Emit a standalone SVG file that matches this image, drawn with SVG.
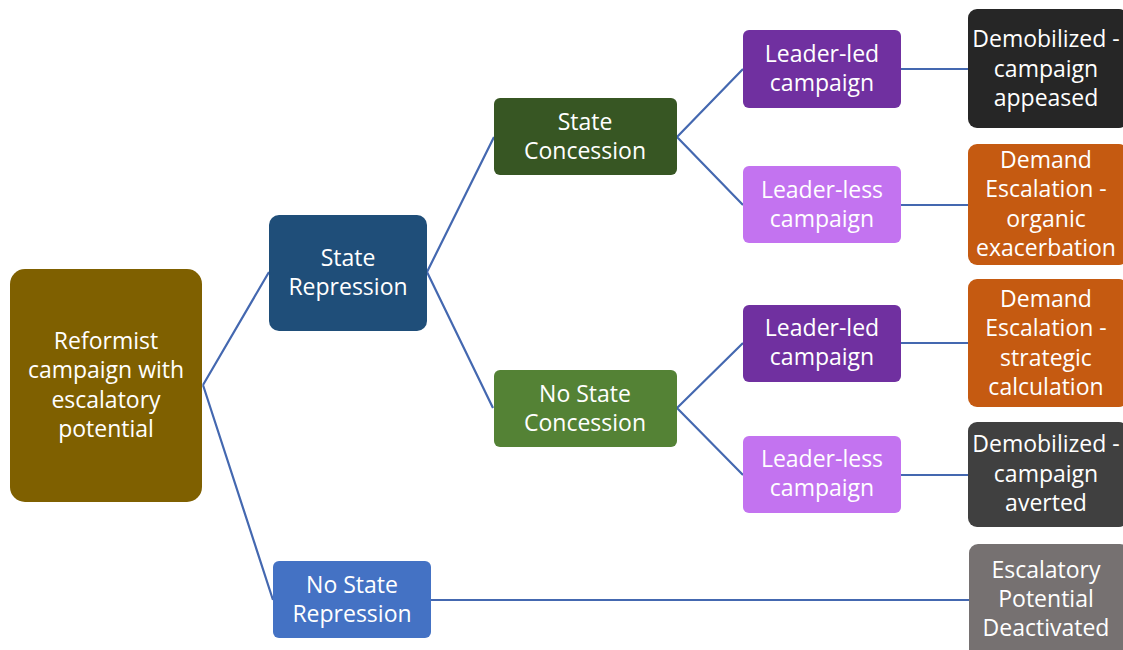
<svg xmlns="http://www.w3.org/2000/svg" width="1123" height="650" viewBox="0 0 1123 650">
<style>
.t{font-family:"Open Sans","Noto Sans",sans-serif;font-size:23px;fill:#fff;text-anchor:middle}
.c{stroke:#4468b0;stroke-width:2.2;fill:none}
</style>
<rect width="1123" height="650" fill="#fff"/>
<g id="connectors">
<path class="c" d="M203,385 L269,272 M203,385 L273,600"/>
<path class="c" d="M427,272 L494,137 M427,272 L493,408"/>
<path class="c" d="M677,137 L743,69 M677,137 L743,205"/>
<path class="c" d="M677,408 L743,343 M677,408 L743,475"/>
<path class="c" d="M901,69 H968 M901,205 H968 M901,343 H968 M901,475 H968 M431,600 H969"/>
</g>
<g id="root"><rect x="10" y="269" width="192" height="233" rx="15" fill="#7f6000"/>
<text class="t" x="106" y="349">Reformist</text><text class="t" x="106" y="378">campaign with</text><text class="t" x="106" y="408">escalatory</text><text class="t" x="106" y="437">potential</text></g>
<g id="state-repression"><rect x="269" y="215" width="158" height="116" rx="10" fill="#1f4e79"/>
<text class="t" x="348" y="266">State</text><text class="t" x="348" y="295">Repression</text></g>
<g id="no-state-repression"><rect x="273" y="561" width="158" height="77" rx="6" fill="#4472c4"/>
<text class="t" x="352" y="593">No State</text><text class="t" x="352" y="622">Repression</text></g>
<g id="state-concession"><rect x="494" y="98" width="183" height="77" rx="6" fill="#375623"/>
<text class="t" x="585" y="130">State</text><text class="t" x="585" y="159">Concession</text></g>
<g id="no-state-concession"><rect x="494" y="370" width="183" height="77" rx="6" fill="#548235"/>
<text class="t" x="585" y="402">No State</text><text class="t" x="585" y="431">Concession</text></g>
<g id="leader-led-1"><rect x="743" y="30" width="158" height="78" rx="6" fill="#7030a0"/>
<text class="t" x="822" y="62">Leader-led</text><text class="t" x="822" y="91">campaign</text></g>
<g id="leader-less-1"><rect x="743" y="166" width="158" height="77" rx="6" fill="#c373f0"/>
<text class="t" x="822" y="198">Leader-less</text><text class="t" x="822" y="227">campaign</text></g>
<g id="leader-led-2"><rect x="743" y="305" width="158" height="77" rx="6" fill="#7030a0"/>
<text class="t" x="822" y="336">Leader-led</text><text class="t" x="822" y="365">campaign</text></g>
<g id="leader-less-2"><rect x="743" y="436" width="158" height="77" rx="6" fill="#c373f0"/>
<text class="t" x="822" y="467">Leader-less</text><text class="t" x="822" y="496">campaign</text></g>
<g id="demobilized-appeased"><rect x="968" y="9" width="160" height="119" rx="9" fill="#262626"/>
<text class="t" x="1046" y="47">Demobilized -</text><text class="t" x="1046" y="77">campaign</text><text class="t" x="1046" y="106">appeased</text></g>
<g id="demand-organic"><rect x="968" y="144" width="160" height="121" rx="9" fill="#c55a11"/>
<text class="t" x="1046" y="168">Demand</text><text class="t" x="1046" y="197">Escalation -</text><text class="t" x="1046" y="227">organic</text><text class="t" x="1046" y="256">exacerbation</text></g>
<g id="demand-strategic"><rect x="968" y="279" width="160" height="128" rx="9" fill="#c55a11"/>
<text class="t" x="1046" y="307">Demand</text><text class="t" x="1046" y="336">Escalation -</text><text class="t" x="1046" y="366">strategic</text><text class="t" x="1046" y="395">calculation</text></g>
<g id="demobilized-averted"><rect x="968" y="422" width="160" height="105" rx="9" fill="#404040"/>
<text class="t" x="1046" y="452">Demobilized -</text><text class="t" x="1046" y="482">campaign</text><text class="t" x="1046" y="511">averted</text></g>
<g id="escalatory-deactivated"><rect x="969" y="544" width="160" height="115" rx="9" fill="#767171"/>
<text class="t" x="1046" y="578">Escalatory</text><text class="t" x="1046" y="607">Potential</text><text class="t" x="1046" y="636">Deactivated</text></g>
</svg>
